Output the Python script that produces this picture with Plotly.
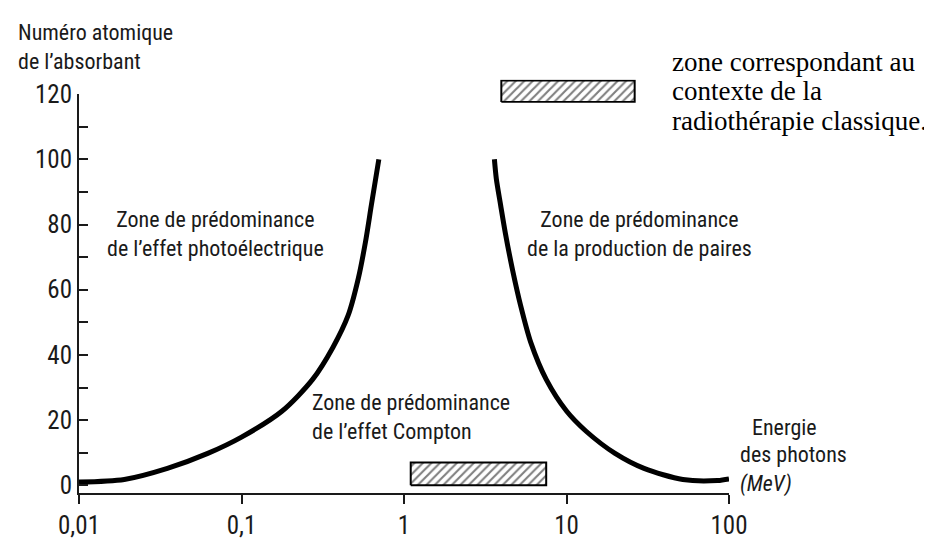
import plotly.graph_objects as go

# ---- data ----
photo_compton_E = [0.01, 0.019, 0.035, 0.062, 0.1, 0.178, 0.274, 0.365, 0.453, 0.523, 0.579, 0.63, 0.70]
photo_compton_Z = [1.0, 1.8, 5.2, 9.8, 14.8, 22.8, 32.5, 42.3, 52.1, 63.4, 74.6, 86.0, 100.0]

compton_pair_E = [3.6, 3.7, 3.93, 4.2, 4.66, 5.23, 6.04, 7.5, 10, 13.2, 19.9, 30, 52, 85, 100]
compton_pair_Z = [100.0, 94.0, 86.0, 77.5, 66.0, 55.0, 43.7, 32.5, 22.8, 16.6, 9.8, 5.2, 1.8, 1.5, 2.0]

radiotherapy_E = [1.1, 7.5]   # MeV range of classic radiotherapy
radiotherapy_Z = [0.0, 7.0]   # atomic number range

x_tickvals = [0.01, 0.1, 1, 10, 100]
x_ticktext = ["0,01", "0,1", "1", "10", "100"]
y_tickvals = [0, 20, 40, 60, 80, 100, 120]
y_ticktext = ["0", "20", "40", "60", "80", "100", "120"]

NARROW = "Roboto Condensed, DejaVu Sans Condensed, sans-serif"
SERIF = "Liberation Serif, Times New Roman, serif"
INK = "#1a1a1a"

# figure geometry (pixels)
W, H = 932, 544
ML, MR, MT, MB = 71, 211, 20, 43
PW, PH = W - ML - MR, H - MT - MB
PLOT_TOP = 83  # pixel y of Z=120


def px_x(px):
    return (px - ML) / PW


def px_y(py):
    return (H - MB - py) / PH


fig = go.Figure()

pattern = dict(shape="/", fgcolor="black", bgcolor="white", size=6, solidity=0.35)

# radiotherapy zone
rx = [radiotherapy_E[0], radiotherapy_E[1], radiotherapy_E[1], radiotherapy_E[0], radiotherapy_E[0]]
ry = [radiotherapy_Z[0], radiotherapy_Z[0], radiotherapy_Z[1], radiotherapy_Z[1], radiotherapy_Z[0]]
fig.add_trace(go.Scatter(x=rx, y=ry, mode="lines", fill="toself", fillpattern=pattern,
                         line=dict(color="black", width=2), hoverinfo="skip", showlegend=False))

# curves
fig.add_trace(go.Scatter(x=photo_compton_E, y=photo_compton_Z, mode="lines",
                         line=dict(color="black", width=5, shape="spline", smoothing=0.8),
                         showlegend=False))
fig.add_trace(go.Scatter(x=compton_pair_E, y=compton_pair_Z, mode="lines",
                         line=dict(color="black", width=5, shape="spline", smoothing=0.8),
                         showlegend=False))

# legend swatch in its own small subplot
fig.add_trace(go.Scatter(x=[0, 1, 1, 0, 0], y=[0, 0, 1, 1, 0], mode="lines", fill="toself",
                         fillpattern=pattern, line=dict(color="black", width=2),
                         xaxis="x2", yaxis="y2", hoverinfo="skip", showlegend=False))

fig.update_layout(
    width=W, height=H,
    margin=dict(l=ML, r=MR, t=MT, b=MB),
    paper_bgcolor="white", plot_bgcolor="white",
    showlegend=False,
    xaxis=dict(type="log", range=[-2, 2], tickvals=x_tickvals, ticktext=x_ticktext,
               showline=True, linecolor=INK, linewidth=2, ticks="outside", ticklen=9,
               tickwidth=2, tickcolor=INK, showgrid=False, zeroline=False,
               tickfont=dict(family=NARROW, size=25, color=INK), domain=[0, 1]),
    yaxis=dict(range=[-2.34, 120], tickvals=y_tickvals, ticktext=y_ticktext,
               showline=True, linecolor=INK, linewidth=2, ticks="inside", ticklen=9,
               tickwidth=2, tickcolor=INK, showgrid=False, zeroline=False,
               minor=dict(dtick=10, ticks="inside", ticklen=9, tickwidth=2, tickcolor=INK),
               tickfont=dict(family=NARROW, size=25, color=INK),
               domain=[0, px_y(PLOT_TOP)]),
    xaxis2=dict(domain=[px_x(492), px_x(628)], range=[-0.01, 1.01], visible=False, anchor="y2"),
    yaxis2=dict(domain=[px_y(92), px_y(68)], range=[-0.03, 1.03], visible=False, anchor="x2"),
)

ann_font = dict(family=NARROW, size=22, color=INK)
legend_font = dict(family=SERIF, size=27, color="black")

annotations = [
    dict(text="Numéro atomique<br>de l’absorbant", xref="paper", yref="paper",
         x=px_x(8), y=px_y(34), xanchor="left", yanchor="middle", align="left", font=ann_font),
    dict(text="Zone de prédominance<br>de l’effet photoélectrique", xref="x", yref="y",
         x=-1.16, y=77, xanchor="center", yanchor="middle", align="center", font=ann_font),
    dict(text="Zone de prédominance<br>de la production de paires", xref="x", yref="y",
         x=1.447, y=77, xanchor="center", yanchor="middle", align="center", font=ann_font),
    dict(text="Zone de prédominance<br>de l’effet Compton", xref="x", yref="y",
         x=-0.58, y=21, xanchor="left", yanchor="middle", align="left", font=ann_font),
    dict(text="Energie", xref="paper", yref="paper",
         x=px_x(742), y=px_y(432), xanchor="left", yanchor="middle", font=ann_font),
    dict(text="des photons", xref="paper", yref="paper",
         x=px_x(730), y=px_y(461), xanchor="left", yanchor="middle", font=ann_font),
    dict(text="<i>(MeV)</i>", xref="paper", yref="paper",
         x=px_x(730), y=px_y(492), xanchor="left", yanchor="middle", font=ann_font),
    dict(text="zone correspondant au", xref="paper", yref="paper",
         x=px_x(662), y=px_y(49), xanchor="left", yanchor="middle", font=legend_font),
    dict(text="contexte de la", xref="paper", yref="paper",
         x=px_x(662), y=px_y(80), xanchor="left", yanchor="middle", font=legend_font),
    dict(text="radiothérapie classique.", xref="paper", yref="paper",
         x=px_x(662), y=px_y(111), xanchor="left", yanchor="middle", font=legend_font),
]
for a in annotations:
    a["showarrow"] = False
fig.update_layout(annotations=annotations)

fig.write_html("out.html")
